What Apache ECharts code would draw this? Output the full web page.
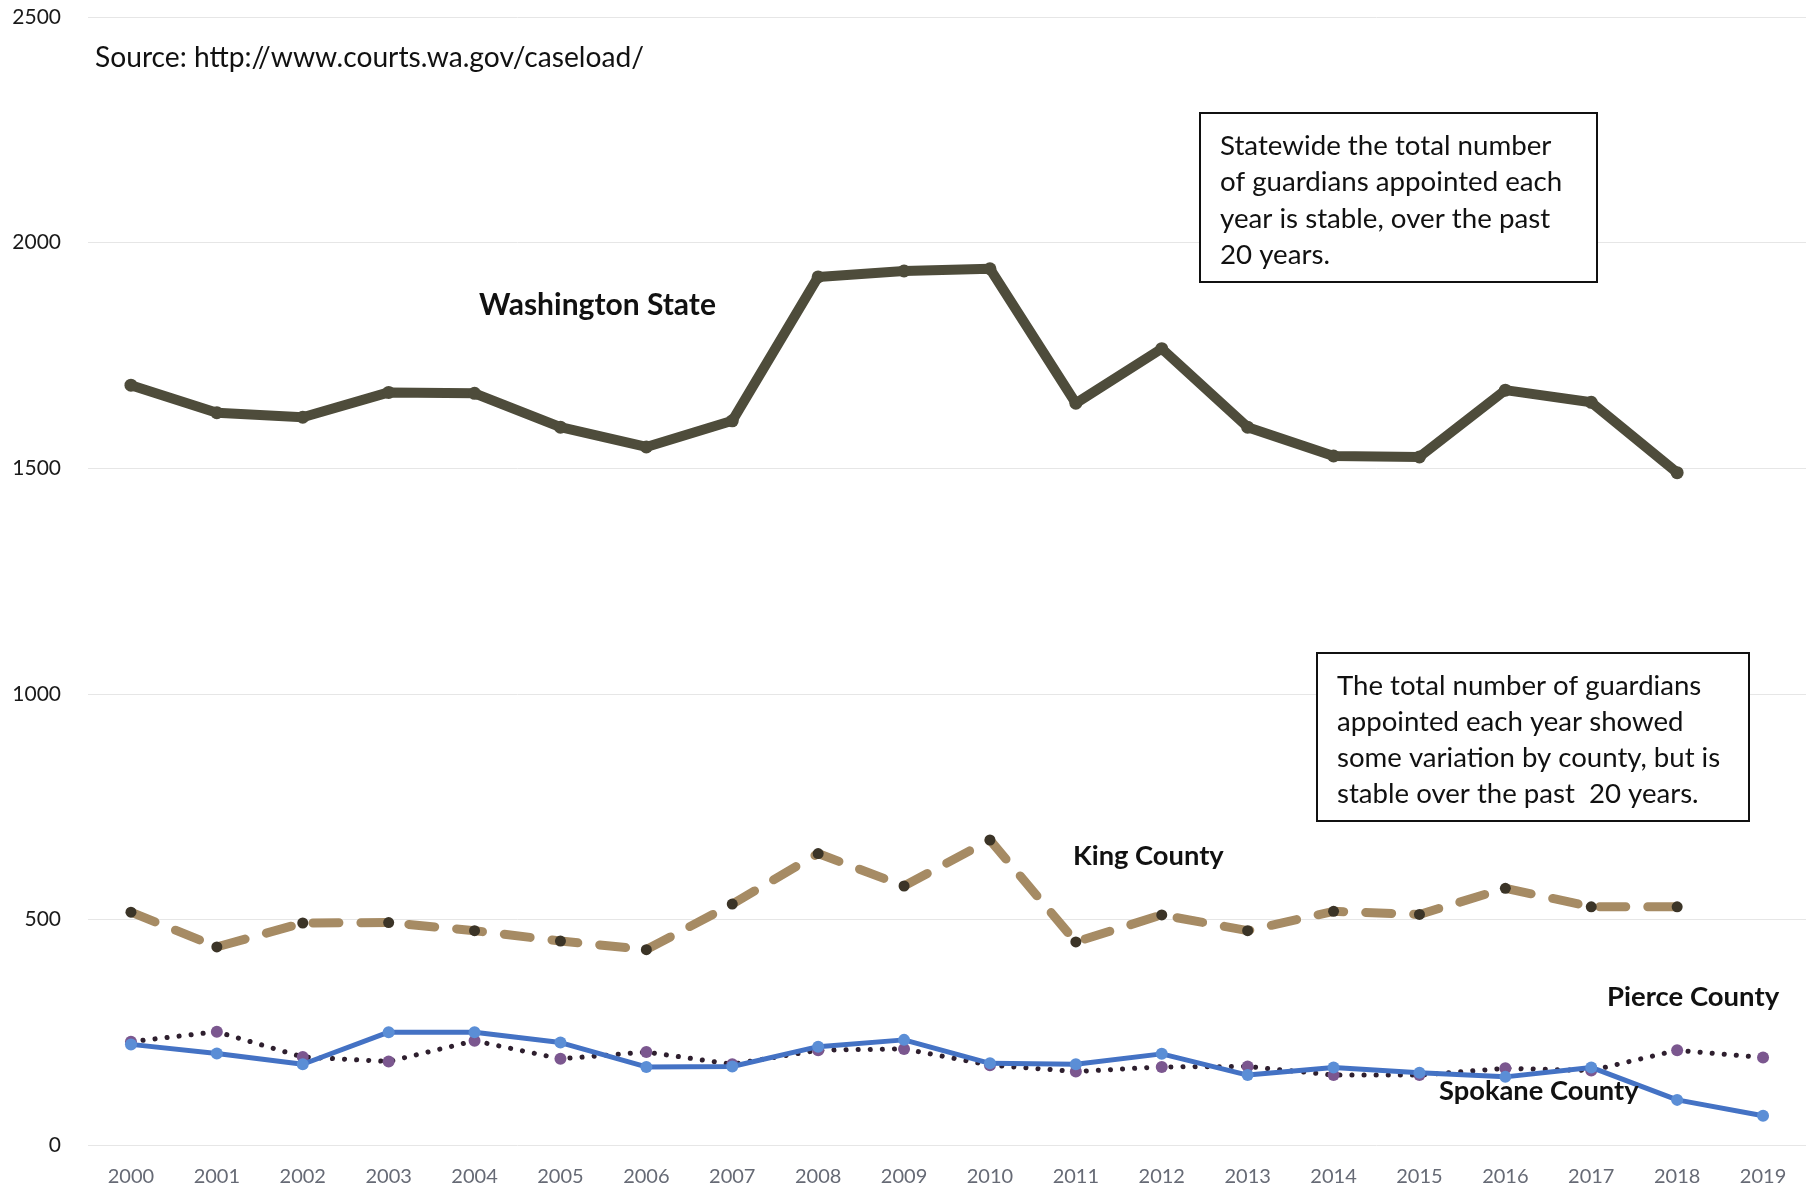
<!DOCTYPE html>
<html>
<head>
<meta charset="utf-8">
<script src="https://cdn.jsdelivr.net/npm/echarts@6/dist/echarts.min.js"></script>
<style>
html,body{margin:0;padding:0;background:#fff;}
#chart{width:1811px;height:1187px;}
</style>
</head>
<body>
<div id="chart"></div>
<script>
const years = ['2000','2001','2002','2003','2004','2005','2006','2007','2008','2009','2010','2011','2012','2013','2014','2015','2016','2017','2018','2019'];
const washingtonState = [1684,1623,1613,1668,1666,1591,1547,1605,1924,1937,1942,1644,1765,1591,1527,1525,1673,1646,1490,null];
const kingCounty = [516,439,492,493,475,452,433,534,646,574,676,450,510,475,518,511,569,528,528,null];
const pierceCounty = [229,251,195,185,231,191,206,179,210,213,177,163,173,174,155,155,170,165,210,194];
const spokaneCounty = [223,203,179,250,250,227,173,174,218,233,181,179,202,155,172,160,151,172,100,65];
const yTicks = {min:0, max:2500, interval:500};

const sourceText = 'Source: http://www.courts.wa.gov/caseload/';
const box1Lines = ['Statewide the total number','of guardians appointed each','year is stable, over the past','20 years.'];
const box2Lines = ['The total number of guardians','appointed each year showed','some variation by county, but is','stable over the past  20 years.'];
const seriesLabels = ['Washington State','King County','Pierce County','Spokane County'];

const FONT = 'Lato, "Open Sans", sans-serif';
const chart = echarts.init(document.getElementById('chart'), null, {renderer:'canvas'});

function txt(text, x, y, size, weight){
  return {type:'text', x:x, y:y, z:100, style:{text:text, fill:'#111', fontFamily:FONT, fontSize:size, fontWeight:weight||'normal', verticalAlign:'middle', align:'left'}};
}
const graphics = [];
graphics.push(txt(sourceText, 95, 58, 28.2));
graphics.push(txt(seriesLabels[0], 479, 305, 30, 'bold'));
graphics.push(txt(seriesLabels[1], 1073, 856, 27.3, 'bold'));
graphics.push(txt(seriesLabels[2], 1607, 997, 27.5, 'bold'));
graphics.push(txt(seriesLabels[3], 1439, 1091, 27.3, 'bold'));
graphics.push({type:'rect', z:90, shape:{x:1200, y:113, width:397, height:169}, style:{fill:'#fff', stroke:'#111', lineWidth:2}});
box1Lines.forEach((l,i)=>graphics.push(txt(l, 1220, 146 + i*36.5, 27.7)));
graphics.push({type:'rect', z:90, shape:{x:1317, y:653, width:432, height:168}, style:{fill:'#fff', stroke:'#111', lineWidth:2}});
box2Lines.forEach((l,i)=>graphics.push(txt(l, 1337, 686 + i*36, 27.6)));

chart.setOption({
  animation:false,
  backgroundColor:'#fff',
  grid:{left:88, right:5, top:17, bottom:41, containLabel:false},
  xAxis:{
    type:'category', data:years, boundaryGap:true,
    axisLine:{show:false}, axisTick:{show:false},
    axisLabel:{color:'#666a75', fontFamily:FONT, fontSize:20, margin:22}
  },
  yAxis:{
    type:'value', min:yTicks.min, max:yTicks.max, interval:yTicks.interval,
    axisLine:{show:false}, axisTick:{show:false},
    axisLabel:{color:'#1a1a1a', fontFamily:FONT, fontSize:21, margin:27, formatter:v=>String(v)},
    splitLine:{lineStyle:{color:'#e6e6e6', width:1}}
  },
  series:[
    {name:seriesLabels[0], type:'line', data:washingtonState, symbol:'circle', symbolSize:13,
     lineStyle:{color:'#4e4c3b', width:10, join:'round'}, itemStyle:{color:'#4e4c3b'}, z:2},
    {name:seriesLabels[1], type:'line', data:kingCounty, symbol:'circle', symbolSize:11,
     lineStyle:{color:'#a68b64', width:9, type:[26,22], cap:'round'}, itemStyle:{color:'#3b3427'}, z:3},
    {name:seriesLabels[2], type:'line', data:pierceCounty, symbol:'circle', symbolSize:12,
     lineStyle:{color:'#2e1f2e', width:5, type:[0.1,12], cap:'round'}, itemStyle:{color:'#7b578f'}, z:4},
    {name:seriesLabels[3], type:'line', data:spokaneCounty, symbol:'circle', symbolSize:12,
     lineStyle:{color:'#4472c4', width:5}, itemStyle:{color:'#5b8ed6'}, z:5}
  ],
  graphic:graphics
});
</script>
</body>
</html>
